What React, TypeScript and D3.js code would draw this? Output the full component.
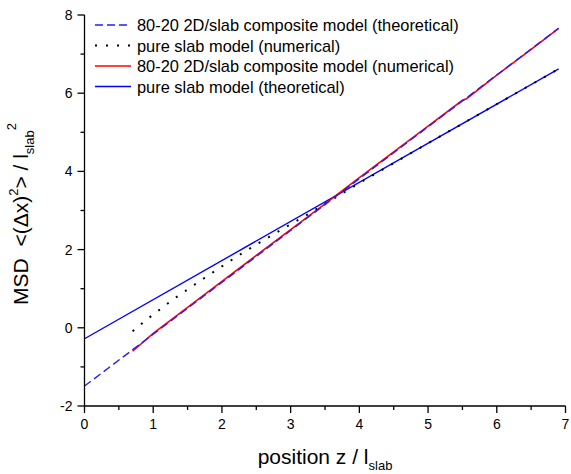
import * as d3 from 'd3';

// position z / l_slab vs MSD
const dashedTheory: [number, number][] = [
    [0, -1.49], [6.9, 7.66],
];
const pureSlabNumerical: [number, number][] = [
    [0.7, -0.09], [0.85, 0.13], [1.0, 0.34], [1.15, 0.54], [1.3, 0.74], [1.5, 0.98],
    [1.75, 1.28], [2.0, 1.57], [2.25, 1.86], [2.5, 2.13], [2.75, 2.39], [3.0, 2.65],
    [3.25, 2.9], [3.5, 3.17], [4.0, 3.7], [4.5, 4.21], [5.0, 4.72], [5.5, 5.22],
    [6.0, 5.72], [6.5, 6.22], [6.9, 6.62],
];
const compositeNumerical: [number, number][] = [
    [0.7, -0.6], [1.0, -0.14], [1.5, 0.52], [2.0, 1.19], [2.5, 1.85], [3.0, 2.51],
    [3.5, 3.17], [4.0, 3.84], [4.5, 4.5], [5.0, 5.16], [5.5, 5.82], [5.56, 5.86],
    [6.0, 6.46], [6.5, 7.12], [6.9, 7.66],
];
const pureSlabTheory: [number, number][] = [
    [0, -0.28], [6.9, 6.62],
];

const xTicks = [0, 1, 2, 3, 4, 5, 6, 7];
const yTicks = [-2, 0, 2, 4, 6, 8];

const legendItems = [
    { label: '80-20 2D/slab composite model (theoretical)', color: '#2020ff', dash: '8,4', width: 1.4 },
    { label: 'pure slab model (numerical)', color: '#000', dash: '2,9', width: 2 },
    { label: '80-20 2D/slab composite model (numerical)', color: '#ff0000', dash: null, width: 1.6 },
    { label: 'pure slab model (theoretical)', color: '#0000ff', dash: null, width: 1.4 },
];

const font = 'Arial, "Liberation Sans", sans-serif';

export default function App() {
    const width = 571;
    const height = 474;
    const left = 84.5, right = 565.5, top = 15, bottom = 406;

    const x = d3.scaleLinear().domain([0, 7]).range([left, right]);
    const y = d3.scaleLinear().domain([-2, 8]).range([bottom, top]);
    const line = d3.line<[number, number]>().x(d => x(d[0])).y(d => y(d[1]));

    const xMinor = d3.range(0.5, 7, 1);
    const yMinor = d3.range(-1, 8, 2);

    return (
        <svg width={width} height={height} style={{ position: 'absolute', left: 0, top: 0 }} fontFamily={font}>
            <rect width={width} height={height} fill="#fff" />

            {/* series, drawn bottom to top */}
            <path d={line(pureSlabTheory) ?? ''} fill="none" stroke="#0000ff" strokeWidth={1.4} />
            <path d={line(compositeNumerical) ?? ''} fill="none" stroke="#ff0000" strokeWidth={1.6} />
            <path d={line(pureSlabNumerical) ?? ''} fill="none" stroke="#000" strokeWidth={2} strokeDasharray="2,9" />
            <path d={line(dashedTheory) ?? ''} fill="none" stroke="#2020ff" strokeWidth={1.4} strokeDasharray="8,4" />

            {/* axes */}
            <line x1={left} x2={right} y1={bottom} y2={bottom} stroke="#000" strokeWidth={1.3} />
            <line x1={left} x2={left} y1={top} y2={bottom} stroke="#000" strokeWidth={1.3} />
            {xTicks.map(t => (
                <g key={'x' + t}>
                    <line x1={x(t)} x2={x(t)} y1={bottom} y2={bottom + 7} stroke="#000" strokeWidth={1.3} />
                    <text x={x(t)} y={bottom + 23} textAnchor="middle" fontSize={14}>{t}</text>
                </g>
            ))}
            {xMinor.map(t => (
                <line key={'xm' + t} x1={x(t)} x2={x(t)} y1={bottom} y2={bottom + 4} stroke="#000" strokeWidth={1.3} />
            ))}
            {yTicks.map(t => (
                <g key={'y' + t}>
                    <line x1={left - 7} x2={left} y1={y(t)} y2={y(t)} stroke="#000" strokeWidth={1.3} />
                    <text x={left - 12} y={y(t) + 5} textAnchor="end" fontSize={14}>{t}</text>
                </g>
            ))}
            {yMinor.map(t => (
                <line key={'ym' + t} x1={left - 4} x2={left} y1={y(t)} y2={y(t)} stroke="#000" strokeWidth={1.3} />
            ))}

            {/* axis titles */}
            <text x={(left + right) / 2} y={464} textAnchor="middle" fontSize={21}>
                position z / l<tspan fontSize={13} dy={6}>slab</tspan>
            </text>
            <text transform={`translate(28,${214}) rotate(-90)`} textAnchor="middle" fontSize={21} xmlSpace="preserve">
                MSD  &lt;(Δx)<tspan fontSize={13} dy={-10}>2</tspan><tspan dy={10}>&gt; / l</tspan>
                <tspan fontSize={13} dy={6}>slab</tspan><tspan fontSize={13} dy={-18}>2</tspan>
            </text>

            {/* legend */}
            {legendItems.map((d, i) => {
                const cy = 25 + i * 20.5;
                return (
                    <g key={d.label}>
                        <line x1={95} x2={131} y1={cy} y2={cy} stroke={d.color} strokeWidth={d.width}
                            strokeDasharray={d.dash ?? undefined} />
                        <text x={137} y={cy + 6} fontSize={16.4}>{d.label}</text>
                    </g>
                );
            })}
        </svg>
    );
}
